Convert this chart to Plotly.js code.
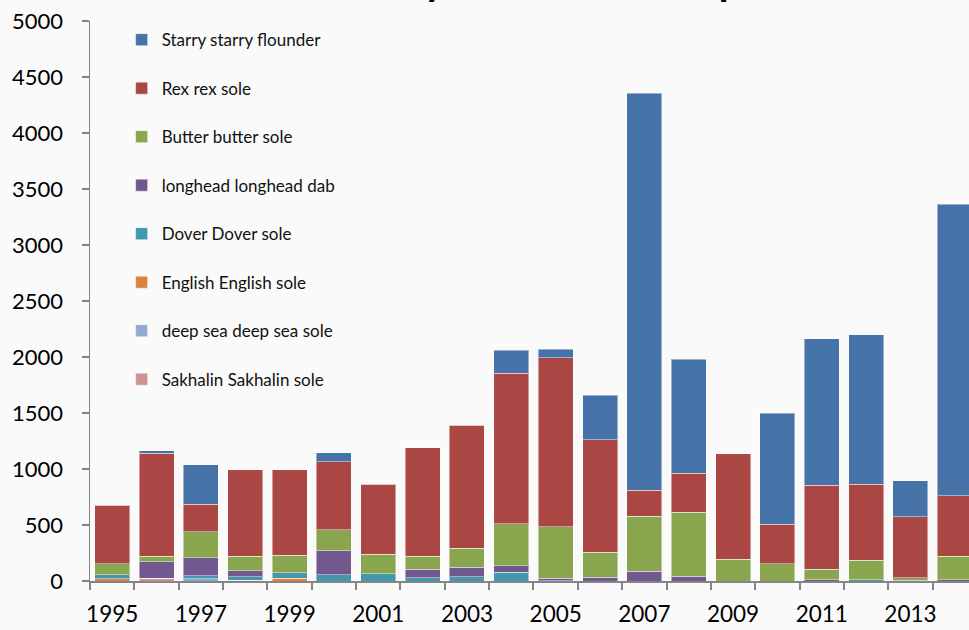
<!DOCTYPE html>
<html>
<head>
<meta charset="utf-8">
<script src="https://cdn.plot.ly/plotly-3.0.1.min.js"></script>
<style>
  html, body { margin: 0; padding: 0; background: #fafafa; }
  #chart { width: 969px; height: 630px; }
</style>
</head>
<body>
<div id="chart"></div>
<script>
const years = [1995,1996,1997,1998,1999,2000,2001,2002,2003,2004,2005,2006,2007,2008,2009,2010,2011,2012,2013,2014];
const tickYears = [1995,1997,1999,2001,2003,2005,2007,2009,2011,2013];

const starry   = [0, 24, 351, 0, 0, 81, 0, 0, 0, 207, 73, 400, 3542, 1015, 0, 993, 1310, 1336, 324, 2602];
const rex      = [523, 922, 244, 774, 767, 607, 622, 970, 1097, 1342, 1511, 1003, 235, 348, 941, 351, 750, 678, 545, 544];
const butter   = [94, 49, 235, 130, 154, 185, 173, 116, 172, 373, 459, 223, 491, 572, 195, 156, 93, 174, 23, 206];
const longhead = [0, 145, 158, 51, 0, 214, 0, 72, 84, 59, 22, 34, 85, 43, 0, 0, 10, 0, 5, 13];
const dover    = [40, 0, 27, 32, 50, 58, 67, 31, 37, 79, 3, 0, 0, 0, 0, 0, 0, 12, 0, 0];
const english  = [18, 0, 0, 0, 24, 0, 0, 0, 0, 0, 0, 0, 0, 0, 0, 0, 0, 0, 0, 0];
const deepsea  = [0, 0, 22, 8, 0, 0, 0, 0, 0, 0, 0, 0, 0, 0, 0, 0, 0, 0, 0, 0];
const sakhalin = [0, 25, 0, 0, 0, 0, 0, 0, 0, 0, 0, 0, 0, 0, 0, 0, 0, 0, 0, 0];

const seriesNames = ["Sakhalin Sakhalin sole", "deep sea deep sea sole", "English English sole", "Dover Dover sole",
                     "longhead longhead dab", "Butter butter sole", "Rex rex sole", "Starry starry flounder"];
const seriesData = [sakhalin, deepsea, english, dover, longhead, butter, rex, starry];
const colors = ["#D19392", "#93A9CF", "#DB843D", "#4198AF", "#71588F", "#89A54E", "#AA4643", "#4572A7"];

const FONT = "Lato, 'Noto Sans', sans-serif";

const traces = seriesNames.map((n, i) => ({
  type: "bar",
  name: n,
  x: years,
  y: seriesData[i],
  legendgroup: "g" + i,
  legendrank: seriesNames.length - i,
  marker: { color: colors[i], line: { color: "rgba(255,255,255,0.45)", width: 1 } },
  hoverinfo: "x+y+name"
}));

const layout = {
  width: 969,
  height: 630,
  margin: { l: 90, r: 0, t: 21, b: 49, pad: 0 },
  paper_bgcolor: "#fafafa",
  plot_bgcolor: "#fafafa",
  barmode: "stack",
  bargap: 0.21,
  font: { family: FONT, color: "#000" },
  showlegend: true,
  legend: {
    x: 0.036, y: 0.998, xanchor: "left", yanchor: "top",
    bgcolor: "rgba(0,0,0,0)",
    font: { family: FONT, size: 17, color: "#111" },
    traceorder: "grouped",
    tracegroupgap: 23.4,
    itemwidth: 30
  },
  xaxis: {
    range: [1994.5, 2014.32],
    tickmode: "array",
    tickvals: tickYears,
    ticktext: tickYears.map(String),
    ticks: "",
    showgrid: false,
    zeroline: false,
    showline: true,
    linecolor: "#858585",
    linewidth: 2,
    tickfont: { family: FONT, size: 22.5, color: "#000" },
    ticklabelstandoff: 12,
    minor: { tick0: 1994.5, dtick: 1, ticks: "outside", ticklen: 7, tickcolor: "#858585", tickwidth: 2, showgrid: false }
  },
  yaxis: {
    range: [0, 5000],
    tickmode: "linear",
    tick0: 0,
    dtick: 500,
    ticks: "outside",
    ticklen: 7,
    tickwidth: 1.5,
    tickcolor: "#858585",
    showgrid: false,
    zeroline: false,
    showline: true,
    linecolor: "#858585",
    linewidth: 1.5,
    tickfont: { family: FONT, size: 22, color: "#000" },
    ticklabelstandoff: 14
  },
  annotations: [{
    text: "<b>Flatfish bycatch of other species</b>",
    xref: "paper", yref: "paper",
    x: (259 - 90) / 879, y: 1 + (21 - 6) / 560,
    xanchor: "left", yanchor: "bottom",
    showarrow: false,
    font: { family: FONT, size: 40, color: "#000" }
  }]
};

Plotly.newPlot("chart", traces, layout, { displayModeBar: false, staticPlot: true });
</script>
</body>
</html>
